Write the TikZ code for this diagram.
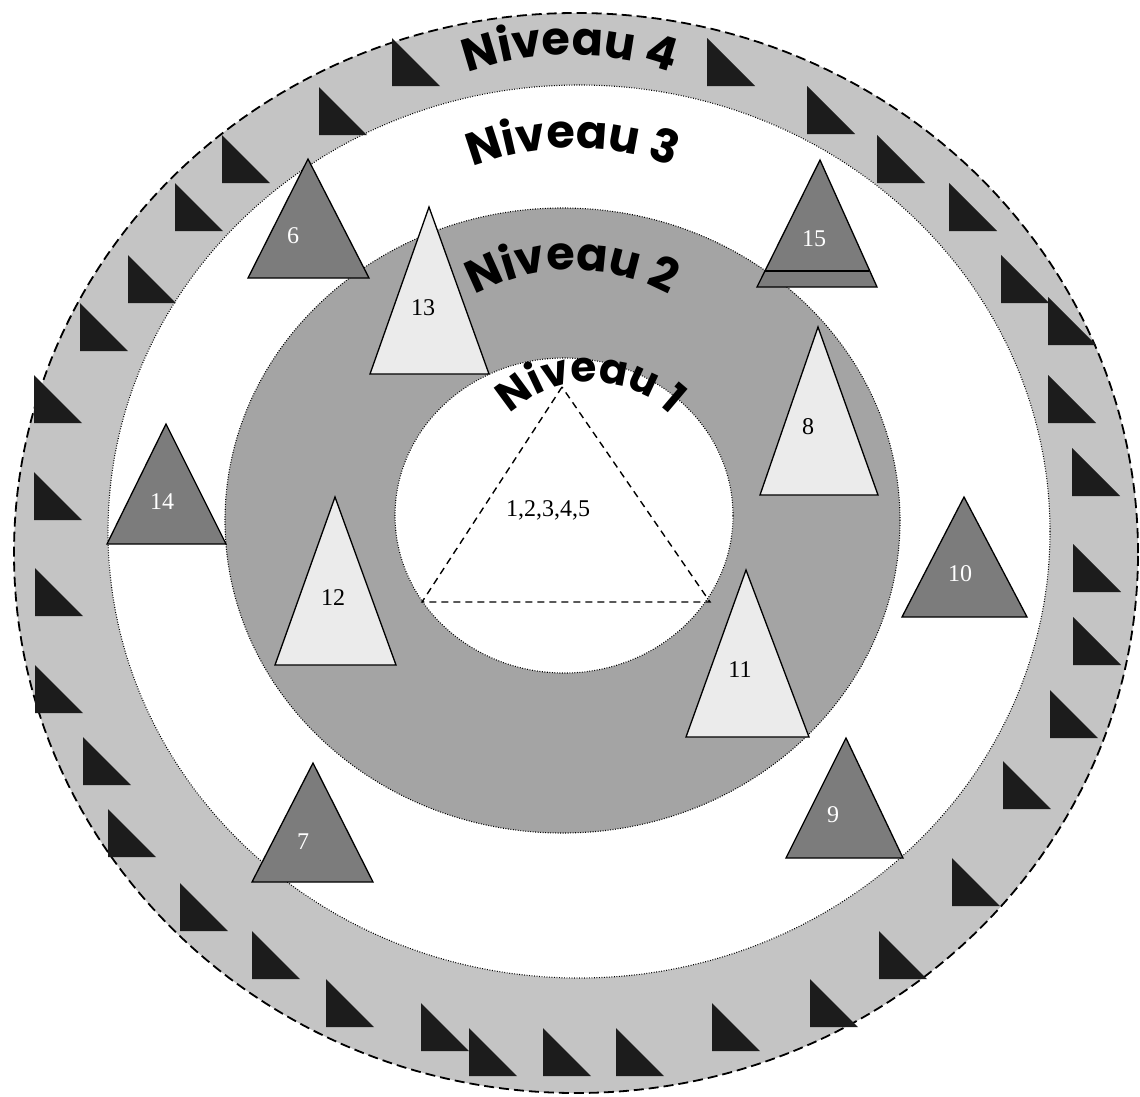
\documentclass[tikz,border=0pt]{standalone}
\usepackage{fontspec}
\setmainfont{Liberation Serif}
\newfontfamily\nivfont{Poppins}
\usetikzlibrary{decorations.text}
\definecolor{bandfour}{HTML}{C4C4C4}
\definecolor{bandtwo}{HTML}{A4A4A4}
\definecolor{darktri}{HTML}{7C7C7C}
\definecolor{lighttri}{HTML}{EBEBEB}
\definecolor{blacktri}{HTML}{1C1C1C}
\tikzset{
 darkshape/.style={fill=darktri, draw=black, line width=1.3pt, line join=miter},
 lightshape/.style={fill=lighttri, draw=black, line width=1.3pt, line join=miter},
 blackshape/.style={fill=blacktri},
 whitelbl/.style={text=white, font=\fontsize{24}{24}\selectfont, inner sep=0pt},
 blacklbl/.style={text=black, font=\fontsize{24}{24}\selectfont, inner sep=0pt},
 ring/.style={draw=black, line width=1.1pt, dash pattern=on 0.9pt off 1.6pt},
 outerring/.style={draw=black, line width=1.8pt, dash pattern=on 10pt off 5pt},
 centretri/.style={draw=black, line width=1.4pt, dash pattern=on 7pt off 5pt},
}
\newcommand{\nivstyle}{\nivfont\bfseries\fontsize{46}{46}\selectfont}
\newcommand{\nivstylesmall}{\nivfont\bfseries\fontsize{42}{42}\selectfont}
\begin{document}
\begin{tikzpicture}[x=1pt,y=-1pt]
\useasboundingbox (0,0) rectangle (1140,1096);
\fill[white] (0,0) rectangle (1140,1096);
% levels
\filldraw[fill=bandfour, outerring] (576,553) ellipse [x radius=562pt, y radius=540pt];
\filldraw[fill=white, ring] (579,531.5) ellipse [x radius=471pt, y radius=446.5pt];
\filldraw[fill=bandtwo, ring] (562.5,520.5) ellipse [x radius=337.5pt, y radius=312.5pt];
\filldraw[fill=white, ring] (564,515.5) ellipse [x radius=169pt, y radius=157.5pt];
% black triangles of level 4
\foreach \x/\y in {392/38,707/38,807/86,877/135,949/183,1001/255,1048/297,1048/375,1072/448,1073/544,1073/617,1050/690,1003/761,952/858,879/931,810/979,712/1003,616/1028,543/1028,421/1003,469/1028,326/979,252/931,180/883,108/809,83/737,35/665,35/568,34/472,34/375,80/303,128/255,175/183,222/135,319/87}
  \fill[blackshape] (\x,\y) -- (\x,{\y+48}) -- ({\x+48},{\y+48}) -- cycle;
% centre triangle
\draw[centretri] (562,387) -- (422,602) -- (710,602) -- cycle;
\node[blacklbl] (t1) at (548,510) {1,2,3,4,5};
% level 2 triangles
\draw[lightshape] (429,207) -- (370,374) -- (489,374) -- cycle;
\node[blacklbl] (t13) at (423,308) {13};
\draw[lightshape] (818,327) -- (760,495) -- (878,495) -- cycle;
\node[blacklbl] (t8) at (808,427) {8};
\draw[lightshape] (335,497) -- (275,665) -- (396,665) -- cycle;
\node[blacklbl] (t12) at (333,598) {12};
\draw[lightshape] (746,570) -- (686,737) -- (809,737) -- cycle;
\node[blacklbl] (t11) at (740,670) {11};
% level 3 triangles
\draw[darkshape] (308,159) -- (248,278) -- (369,278) -- cycle;
\node[whitelbl] (t6) at (293,236) {6};
\draw[darkshape] (820,160) -- (757,287) -- (877,287) -- cycle;
\draw[black, line width=1.3pt] (765,271) -- (869,271);
\node[whitelbl] (t15) at (814,239) {15};
\draw[darkshape] (166,424) -- (107,544) -- (226,544) -- cycle;
\node[whitelbl] (t14) at (162,502) {14};
\draw[darkshape] (964,497) -- (902,617) -- (1027,617) -- cycle;
\node[whitelbl] (t10) at (960,574) {10};
\draw[darkshape] (313,763) -- (252,882) -- (373,882) -- cycle;
\node[whitelbl] (t7) at (303,842) {7};
\draw[darkshape] (846,738) -- (786,858) -- (903,858) -- cycle;
\node[whitelbl] (t9) at (833,815) {9};
% level titles
\path[decorate, decoration={text along path, text align=center, text={|\nivstyle|Niveau 4}}]
  (357.9,142.9) arc[start angle=135, end angle=45, radius=300pt];
\path[decorate, decoration={text along path, text align=center, text={|\nivstyle|Niveau 3}}]
  (399.4,211.2) arc[start angle=130, end angle=50, radius=270pt];
\path[decorate, decoration={text along path, text align=center, text={|\nivstyle|Niveau 2}}]
  (418.8,341.4) arc[start angle=140, end angle=40, radius=200pt];
\path[decorate, decoration={text along path, text align=center, text={|\nivstylesmall|Niveau 1}}]
  (485.8,448.4) arc[start angle=155, end angle=25, radius=115pt];
\end{tikzpicture}
\end{document}
